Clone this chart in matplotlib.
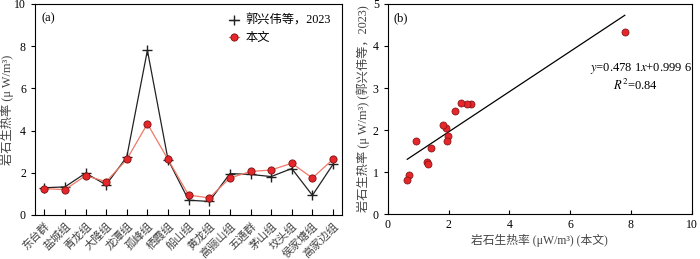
import numpy as np
import matplotlib
matplotlib.use('Agg')
import matplotlib.pyplot as plt

plt.rcParams['font.family'] = ['Liberation Serif', 'Noto Sans CJK SC']
plt.rcParams['mathtext.fontset'] = 'stix'

# data
units = ['东台群', '盐城组', '青龙组', '大隆组', '龙潭组', '孤峰组', '栖霞组', '船山组',
         '黄龙组', '高骊山组', '五通群', '茅山组', '坟头组', '侯家塘组', '高家边组']
guo2023 = [1.29, 1.33, 1.98, 1.43, 2.75, 7.8, 2.62, 0.7, 0.64, 1.96, 1.92, 1.82, 2.2, 0.93, 2.4]
this_work = [1.25, 1.2, 1.86, 1.58, 2.63, 4.32, 2.63, 0.94, 0.81, 1.75, 2.06, 2.13, 2.45, 1.75, 2.64]
fit_k, fit_b = 0.4781, 0.9996

fig = plt.figure(figsize=(7.0, 2.59), dpi=100)
ax1 = fig.add_axes([0.05, 0.17, 0.439, 0.815])
ax2 = fig.add_axes([0.554, 0.173, 0.434, 0.812])

lab_col = '#444444'

# (a)
x = np.arange(len(units))
ax1.plot(x, guo2023, color='#222222', lw=0.9, marker='+', ms=7, mew=1.0,
         label='郭兴伟等，2023', zorder=2)
ax1.plot(x, this_work, color='#f07868', lw=0.9, marker='o', ms=5.2,
         mfc='#e5262a', mec='#7a1010', mew=0.6, label='本文', zorder=3)
ax1.set_xlim(-0.45, len(units) - 0.55)
ax1.set_ylim(0, 10)
ax1.set_yticks([0, 2, 4, 6, 8, 10])
ax1.set_xticks(x)
ax1.set_xticklabels(units, rotation=45, ha='right', va='top', rotation_mode='anchor',
                    fontsize=8, color=lab_col)
ax1.tick_params(axis='x', direction='in', length=4, pad=4)
ax1.tick_params(axis='y', direction='out', length=3, labelsize=8.5)
ax1.set_ylabel('岩石生热率 (μ W/m³)', fontsize=8.8, color=lab_col)
ax1.yaxis.set_label_coords(-0.068, 0.5)
ax1.text(0.02, 0.96, '(a)', transform=ax1.transAxes, fontsize=9, va='top')
ax1.legend(loc='upper right', frameon=False, fontsize=8.8, handlelength=0.8,
           handletextpad=0.6, borderaxespad=0.5, labelspacing=0.4)

# (b)
ax2.scatter(guo2023, this_work, s=26, c='#e5262a', edgecolors='#7a1010', linewidths=0.5, zorder=3)
xf = np.array([min(guo2023), max(guo2023)])
ax2.plot(xf, fit_k * xf + fit_b, color='black', lw=0.9, zorder=2)
ax2.set_xlim(0, 10)
ax2.set_ylim(0, 5)
ax2.set_xticks([0, 2, 4, 6, 8, 10])
ax2.set_yticks([0, 1, 2, 3, 4, 5])
ax2.tick_params(axis='x', direction='in', length=3, labelsize=8.5)
ax2.tick_params(axis='y', direction='out', length=3, labelsize=8.5)
ax2.set_xlabel('岩石生热率 (μW/m³) (本文)', fontsize=8.5, color=lab_col, labelpad=2)
ax2.set_ylabel('岩石生热率 (μ W/m³) (郭兴伟等，2023)', fontsize=8.8, color=lab_col, labelpad=2)
ax2.text(0.02, 0.96, '(b)', transform=ax2.transAxes, fontsize=9, va='top')
ax2.text(1.0, 0.695, '$y$=0.478 1$x$+0.999 6', transform=ax2.transAxes, fontsize=9,
         ha='right', va='center')
ax2.text(0.89, 0.61, '$R^2$=0.84', transform=ax2.transAxes, fontsize=9,
         ha='right', va='center')

for ax in (ax1, ax2):
    for s in ax.spines.values():
        s.set_linewidth(0.8)

fig.savefig('out.png', dpi=100)
